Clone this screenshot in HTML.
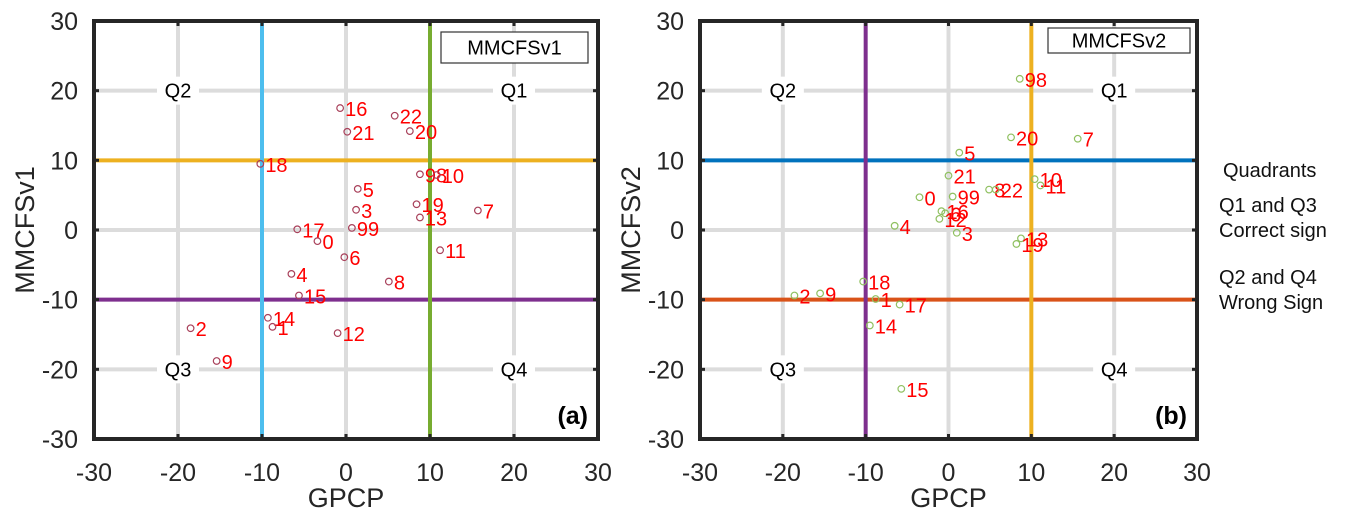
<!DOCTYPE html>
<html><head><meta charset="utf-8"><style>
body{margin:0;background:#fff;}
svg{display:block;font-family:"Liberation Sans",Arial,sans-serif;}
</style></head><body>
<svg id="chart" width="1354" height="523" viewBox="0 0 1354 523" xmlns="http://www.w3.org/2000/svg">
<g id="side-note" font-size="20" fill="#111">
<text x="1223" y="177">Quadrants</text>
<text x="1219" y="212">Q1 and Q3</text>
<text x="1219" y="237">Correct sign</text>
<text x="1219" y="284">Q2 and Q4</text>
<text x="1219" y="309">Wrong Sign</text>
</g>
</svg>
<script>
const ticks = [-30,-20,-10,0,10,20,30];
const tickLabels = ["-30","-20","-10","0","10","20","30"];
const labelsA = ["16","22","21","20","18","98","10","5","19","3","13","7","17","99","0","11","6","4","8","15","14","1","2","12","9"];
const gpcpA = [-0.7,5.8,0.15,7.6,-10.2,8.8,10.8,1.4,8.4,1.2,8.8,15.7,-5.8,0.7,-3.4,11.2,-0.2,-6.5,5.1,-5.6,-9.3,-8.75,-18.5,-1.0,-15.4];
const modelA = [17.5,16.4,14.1,14.2,9.5,8.0,7.9,5.9,3.7,2.9,1.8,2.8,0.1,0.3,-1.6,-2.9,-3.9,-6.3,-7.4,-9.4,-12.6,-13.9,-14.1,-14.8,-18.8];
const labelsB = ["98","20","7","5","21","10","11","8","22","0","99","16","6","12","4","3","13","19","18","2","9","1","17","14","15"];
const gpcpB = [8.6,7.55,15.6,1.3,0.0,10.4,11.1,4.9,5.7,-3.5,0.5,-0.85,-0.4,-1.1,-6.5,1.0,8.75,8.2,-10.3,-18.6,-15.5,-8.8,-5.9,-9.5,-5.7];
const modelB = [21.7,13.3,13.1,11.1,7.8,7.3,6.4,5.8,5.8,4.7,4.8,2.7,2.4,1.6,0.6,-0.4,-1.2,-2.0,-7.4,-9.4,-9.1,-9.9,-10.7,-13.7,-22.8];

const NS="http://www.w3.org/2000/svg";
const svg=document.getElementById('chart');
function mk(tag,attrs,parent){const e=document.createElementNS(NS,tag);for(const k in attrs)e.setAttribute(k,attrs[k]);parent.appendChild(e);return e;}

function panel(cfg){
  const g=mk('g',{},svg);
  
  
  const x=v=>cfg.x0+(v+30)/60*(cfg.x1-cfg.x0);
  const y=v=>cfg.y1-(v+30)/60*(cfg.y1-cfg.y0);
  // grid
  [-20,0,20].forEach(t=>{
    const gl=mk('line',{x1:x(t),x2:x(t),y1:cfg.y0,y2:cfg.y1,stroke:'#dcdcdc','stroke-width':4},g);
    
    
    const hl=mk('line',{x1:cfg.x0,x2:cfg.x1,y1:y(t),y2:y(t),stroke:'#dcdcdc','stroke-width':4},g);
    
    
  });
  // quadrant labels
  [["Q2",-20,20],["Q1",20,20],["Q3",-20,-20],["Q4",20,-20]].forEach(q=>{
    mk('rect',{x:x(q[1])-21,y:y(q[2])-14,width:42,height:28,fill:'#fff'},g);
    const t=mk('text',{x:x(q[1]),y:y(q[2])+7,'text-anchor':'middle','font-size':20,fill:'#000'},g);
    t.textContent=q[0];
    
    
  });
  // threshold lines
  const h1=mk('line',{x1:cfg.x0,x2:cfg.x1,y1:y(10),y2:y(10),stroke:cfg.hTop,'stroke-width':4},g);
  
  
  const h2=mk('line',{x1:cfg.x0,x2:cfg.x1,y1:y(-10),y2:y(-10),stroke:cfg.hBot,'stroke-width':4},g);
  
  
  const v1=mk('line',{x1:x(-10),x2:x(-10),y1:cfg.y0,y2:cfg.y1,stroke:cfg.vL,'stroke-width':4},g);
  
  
  const v2=mk('line',{x1:x(10),x2:x(10),y1:cfg.y0,y2:cfg.y1,stroke:cfg.vR,'stroke-width':4},g);
  
  
  // points
  cfg.xs.forEach((xv,i)=>{
    const c=mk('circle',{cx:x(xv),cy:y(cfg.ys[i]),r:3.3,fill:'none',stroke:cfg.pt,'stroke-width':1.2},g);
    
    
    const t=mk('text',{x:x(xv)+5,y:y(cfg.ys[i])+8,'font-size':20,fill:'#ff0000'},g);
    t.textContent=cfg.labels[i];
    
    
  });
  // frame
  const fr=mk('rect',{x:cfg.x0,y:cfg.y0,width:cfg.x1-cfg.x0,height:cfg.y1-cfg.y0,fill:'none',stroke:'#262626','stroke-width':4},g);
  
  
  ticks.forEach((t,i)=>{
    mk('line',{x1:x(t),x2:x(t),y1:cfg.y1,y2:cfg.y1-5,stroke:'#262626','stroke-width':3},g);
    mk('line',{x1:x(t),x2:x(t),y1:cfg.y0,y2:cfg.y0+5,stroke:'#262626','stroke-width':3},g);
    mk('line',{x1:cfg.x0,x2:cfg.x0+5,y1:y(t),y2:y(t),stroke:'#262626','stroke-width':3},g);
    mk('line',{x1:cfg.x1,x2:cfg.x1-5,y1:y(t),y2:y(t),stroke:'#262626','stroke-width':3},g);
    const tx=mk('text',{x:x(t),y:cfg.y1+42,'text-anchor':'middle','font-size':25,fill:'#262626'},g);
    tx.textContent=tickLabels[i];
    
    
    const ty=mk('text',{x:cfg.x0-16,y:y(t)+9,'text-anchor':'end','font-size':25,fill:'#262626'},g);
    ty.textContent=tickLabels[i];
    
    
  });
  const xt=mk('text',{x:(cfg.x0+cfg.x1)/2,y:cfg.y1+68,'text-anchor':'middle','font-size':27,fill:'#262626'},g);
  xt.textContent='GPCP';
  
  
  const cy=(cfg.y0+cfg.y1)/2;
  const yt=mk('text',{x:cfg.x0-60,y:cy,'text-anchor':'middle','font-size':27,fill:'#262626',transform:'rotate(-90 '+(cfg.x0-60)+' '+cy+')'},g);
  yt.textContent=cfg.name;
  
  
  // legend box
  mk('rect',{x:cfg.lx,y:cfg.ly,width:cfg.lw,height:cfg.lh,fill:'#fff',stroke:'#333','stroke-width':1.2},g);
  const lt=mk('text',{x:cfg.lx+cfg.lw/2,y:cfg.ly+cfg.lh/2+7,'text-anchor':'middle','font-size':20,fill:'#000'},g);
  lt.textContent=cfg.name;
  
  
  const pl=mk('text',{x:cfg.x1-10,y:cfg.y1-15,'text-anchor':'end','font-size':25,'font-weight':'bold',fill:'#000'},g);
  pl.textContent=cfg.tag;
  
  
}
panel({id:'a',name:'MMCFSv1',tag:'(a)',x0:94,x1:598,y0:21,y1:439,xs:gpcpA,ys:modelA,labels:labelsA,
  hTop:'#EDB120',hBot:'#7E2F8E',vL:'#4DBEEE',vR:'#77AC30',pt:'#a8405a',lx:441,ly:32,lw:147,lh:31});
panel({id:'b',name:'MMCFSv2',tag:'(b)',x0:700,x1:1197,y0:21,y1:439,xs:gpcpB,ys:modelB,labels:labelsB,
  hTop:'#0072BD',hBot:'#D95319',vL:'#7E2F8E',vR:'#EDB120',pt:'#8fc060',lx:1048,ly:28,lw:142,lh:25});
</script>
</body></html>
